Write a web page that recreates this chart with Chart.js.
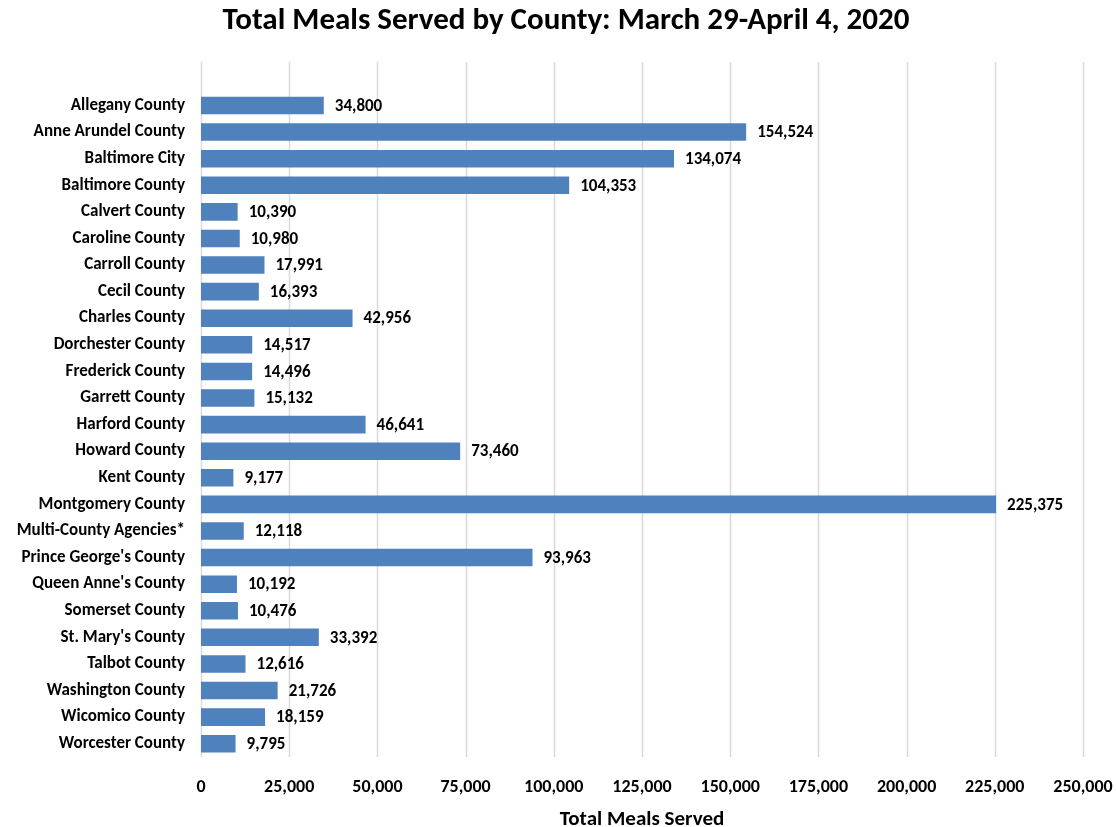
<!DOCTYPE html>
<html>
<head>
<meta charset="utf-8">
<script src="https://cdn.jsdelivr.net/npm/chart.js@4"></script>
<style>
  html, body { margin: 0; padding: 0; background: #fff; }
  #wrap { width: 1117px; height: 827px; }
</style>
</head>
<body>
<div id="wrap"><canvas id="mealsChart"></canvas></div>
<script>
// Chart data
const counties = [
    'Allegany County', 'Anne Arundel County', 'Baltimore City', 'Baltimore County',
    'Calvert County', 'Caroline County', 'Carroll County', 'Cecil County',
    'Charles County', 'Dorchester County', 'Frederick County', 'Garrett County',
    'Harford County', 'Howard County', 'Kent County', 'Montgomery County',
    'Multi-County Agencies*', "Prince George's County", "Queen Anne's County",
    'Somerset County', "St. Mary's County", 'Talbot County', 'Washington County',
    'Wicomico County', 'Worcester County'
];
const mealsServed = [
    34800, 154524, 134074, 104353, 10390, 10980, 17991, 16393, 42956, 14517,
    14496, 15132, 46641, 73460, 9177, 225375, 12118, 93963, 10192, 10476,
    33392, 12616, 21726, 18159, 9795
];
const xTickStep = 25000;
const xMax = 250000;

const fontFamily = "Carlito, 'Liberation Sans Narrow', Lato, sans-serif";

// Draw value labels at the end of each bar
const valueLabels = {
    id: 'valueLabels',
    afterDatasetsDraw(chart) {
        const ctx = chart.ctx;
        const meta = chart.getDatasetMeta(0);
        ctx.save();
        ctx.font = 'bold 17px ' + fontFamily;
        ctx.fillStyle = '#000';
        ctx.textAlign = 'left';
        ctx.textBaseline = 'middle';
        meta.data.forEach((bar, i) => {
            ctx.fillText(mealsServed[i].toLocaleString('en-US'), bar.x + 11, bar.y + 1);
        });
        ctx.restore();
    }
};

// Vertical grid lines extend above the first category
const tallGrid = {
    id: 'tallGrid',
    beforeDatasetsDraw(chart) {
        const ctx = chart.ctx;
        const xScale = chart.scales.x;
        ctx.save();
        ctx.strokeStyle = '#d9d9d9';
        ctx.lineWidth = 1.5;
        xScale.ticks.forEach(tick => {
            const x = Math.round(xScale.getPixelForValue(tick.value)) + 0.5;
            ctx.beginPath();
            ctx.moveTo(x, 62);
            ctx.lineTo(x, chart.chartArea.bottom);
            ctx.stroke();
        });
        ctx.restore();
    }
};

const ctx = document.getElementById('mealsChart').getContext('2d');
new Chart(ctx, {
    type: 'bar',
    data: {
        labels: counties,
        datasets: [{
            data: mealsServed,
            backgroundColor: '#4f81bd',
            barPercentage: 0.66,
            categoryPercentage: 1
        }]
    },
    options: {
        indexAxis: 'y',
        responsive: true,
        maintainAspectRatio: false,
        animation: false,
        layout: {
            padding: { left: 15, right: 0, top: 0, bottom: 0 }
        },
        plugins: {
            legend: { display: false },
            tooltip: { enabled: false },
            title: {
                display: true,
                text: 'Total Meals Served by County: March 29-April 4, 2020',
                color: '#000',
                font: { family: fontFamily, size: 31, weight: 'bold' },
                padding: { top: 3, bottom: 52 }
            }
        },
        scales: {
            x: {
                min: 0,
                max: xMax,
                grid: { display: false, drawTicks: false },
                border: { display: false },
                afterFit: function(scale) {
                    scale.height = 70;
                    scale.paddingRight = 34;
                },
                ticks: {
                    stepSize: xTickStep,
                    color: '#000',
                    padding: 20,
                    font: { family: fontFamily, size: 18, weight: 'bold' },
                    callback: function(value) {
                        return value.toLocaleString('en-US');
                    }
                },
                title: {
                    display: true,
                    text: 'Total Meals Served',
                    color: '#000',
                    font: { family: fontFamily, size: 21, weight: 'bold', lineHeight: 1 },
                    padding: { top: 8, bottom: -3 }
                }
            },
            y: {
                grid: { display: false, drawTicks: false },
                border: { display: false },
                afterFit: function(scale) {
                    scale.width = 186;
                },
                ticks: {
                    color: '#000',
                    padding: 16,
                    font: { family: fontFamily, size: 17, weight: 'bold' }
                }
            }
        }
    },
    plugins: [tallGrid, valueLabels]
});
</script>
</body>
</html>
